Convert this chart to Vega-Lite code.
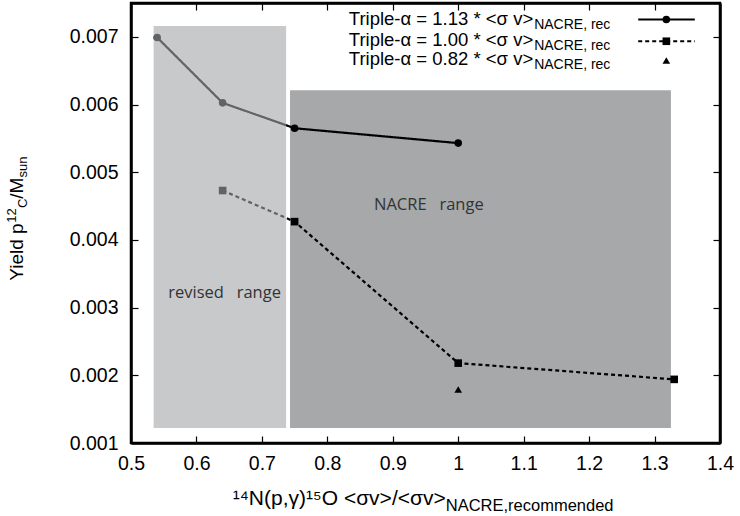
{
  "$schema": "https://vega.github.io/schema/vega-lite/v6.json",
  "width": 589,
  "height": 440,
  "autosize": {"type": "none"},
  "padding": {"left": 131, "top": 3, "right": 20, "bottom": 73},
  "background": "white",
  "config": {"view": {"stroke": "black", "strokeWidth": 2.5}, "font": "Liberation Sans"},
  "resolve": {"axis": {"x": "independent", "y": "independent"}},
  "datasets": {
    "rects": [
      {"r": "nacre", "x": 0.743, "x2": 1.325, "y": 0.00122, "y2": 0.00621},
      {"r": "revised", "x": 0.5346, "x2": 0.737, "y": 0.00122, "y2": 0.00716}
    ],
    "series": [
      {"s": "1.13", "x": 0.54, "y": 0.00699},
      {"s": "1.13", "x": 0.64, "y": 0.006025},
      {"s": "1.13", "x": 0.75, "y": 0.00565},
      {"s": "1.13", "x": 1.0, "y": 0.00543},
      {"s": "1.00", "x": 0.64, "y": 0.00473},
      {"s": "1.00", "x": 0.75, "y": 0.00427},
      {"s": "1.00", "x": 1.0, "y": 0.00218},
      {"s": "1.00", "x": 1.33, "y": 0.00194},
      {"s": "0.82", "x": 1.0, "y": 0.00179}
    ],
    "legl": [
      {"s": "1.13", "x": 1.275, "y": 0.007256},
      {"s": "1.13", "x": 1.3615, "y": 0.007256},
      {"s": "1.00", "x": 1.275, "y": 0.006935},
      {"s": "1.00", "x": 1.3615, "y": 0.006935}
    ],
    "legm": [
      {"s": "1.13", "x": 1.318, "y": 0.007256},
      {"s": "1.00", "x": 1.318, "y": 0.006935},
      {"s": "0.82", "x": 1.318, "y": 0.00665}
    ],
    "txt": [
      {"k": "leg", "x": 1.1146, "y": 0.007182, "t": "Triple-α = 1.13 * <σ v>"},
      {"k": "leg", "x": 1.1146, "y": 0.006871, "t": "Triple-α = 1.00 * <σ v>"},
      {"k": "leg", "x": 1.1146, "y": 0.00659, "t": "Triple-α = 0.82 * <σ v>"},
      {"k": "legsub", "x": 1.116, "y": 0.007182, "t": "NACRE, rec"},
      {"k": "legsub", "x": 1.116, "y": 0.006871, "t": "NACRE, rec"},
      {"k": "legsub", "x": 1.116, "y": 0.00659, "t": "NACRE, rec"},
      {"k": "range", "x": 0.643, "y": 0.003145, "t": "revised\u00a0\u00a0\u00a0range"},
      {"k": "range", "x": 0.9551, "y": 0.004446, "t": "NACRE\u00a0\u00a0\u00a0range"},
      {"k": "xt", "x": 0.9809, "y": 0.0000831, "t": "¹⁴N(p,γ)¹⁵O <σv>/<σv>"},
      {"k": "xts", "x": 0.9809, "y": 0.0000831, "t": "NACRE,recommended"},
      {"k": "yt", "x": 0.3351, "y": 0.003396, "t": "Yield p"},
      {"k": "yt", "x": 0.3351, "y": 0.004609, "t": "/M"},
      {"k": "ytsup", "x": 0.3351, "y": 0.004255, "t": "12"},
      {"k": "ytsub", "x": 0.3351, "y": 0.00447, "t": "C"},
      {"k": "ytsub", "x": 0.3351, "y": 0.004921, "t": "sun"}
    ],
    "dummy": [{"x": 1.0, "y": 0.004}]
  },
  "layer": [
    {
      "data": {"name": "rects"},
      "transform": [{"filter": "datum.r === 'nacre'"}],
      "mark": {"type": "rect", "color": "#a6a8aa"},
      "encoding": {
        "x": {"field": "x", "type": "quantitative", "scale": {"domain": [0.5, 1.4], "nice": false, "zero": false}, "axis": null},
        "x2": {"field": "x2"},
        "y": {"field": "y", "type": "quantitative", "scale": {"domain": [0.001, 0.0075], "nice": false, "zero": false}, "axis": null},
        "y2": {"field": "y2"}
      }
    },
    {
      "data": {"name": "series"},
      "transform": [{"filter": "datum.s !== '0.82'"}],
      "mark": {"type": "line", "color": "black", "strokeWidth": 2.2},
      "encoding": {
        "x": {"field": "x", "type": "quantitative", "axis": null},
        "y": {"field": "y", "type": "quantitative", "axis": null},
        "detail": {"field": "s"},
        "strokeDash": {"field": "s", "type": "nominal", "scale": {"domain": ["1.13", "1.00"], "range": [[1, 0], [4, 3]]}, "legend": null}
      }
    },
    {
      "data": {"name": "series"},
      "mark": {"type": "point", "filled": true, "color": "black", "opacity": 1, "size": 58},
      "encoding": {
        "x": {"field": "x", "type": "quantitative", "axis": null},
        "y": {"field": "y", "type": "quantitative", "axis": null},
        "shape": {"field": "s", "type": "nominal", "scale": {"domain": ["1.13", "1.00", "0.82"], "range": ["circle", "square", "triangle-up"]}, "legend": null}
      }
    },
    {
      "data": {"name": "rects"},
      "transform": [{"filter": "datum.r === 'revised'"}],
      "mark": {"type": "rect", "color": "#a3a5a8", "opacity": 0.6},
      "encoding": {
        "x": {"field": "x", "type": "quantitative", "axis": null},
        "x2": {"field": "x2"},
        "y": {"field": "y", "type": "quantitative", "axis": null},
        "y2": {"field": "y2"}
      }
    },
    {
      "data": {"name": "legl"},
      "mark": {"type": "line", "color": "black", "strokeWidth": 2.2},
      "encoding": {
        "x": {"field": "x", "type": "quantitative", "axis": null},
        "y": {"field": "y", "type": "quantitative", "axis": null},
        "detail": {"field": "s"},
        "strokeDash": {"field": "s", "type": "nominal", "legend": null}
      }
    },
    {
      "data": {"name": "legm"},
      "mark": {"type": "point", "filled": true, "color": "black", "opacity": 1, "size": 58},
      "encoding": {
        "x": {"field": "x", "type": "quantitative", "axis": null},
        "y": {"field": "y", "type": "quantitative", "axis": null},
        "shape": {"field": "s", "type": "nominal", "legend": null}
      }
    },
    {
      "data": {"name": "txt"},
      "transform": [{"filter": "datum.k === 'leg'"}],
      "mark": {"type": "text", "align": "right", "baseline": "alphabetic", "font": "Liberation Sans", "fontSize": 18.5, "color": "black"},
      "encoding": {
        "x": {"field": "x", "type": "quantitative", "axis": null},
        "y": {"field": "y", "type": "quantitative", "axis": null},
        "text": {"field": "t"}
      }
    },
    {
      "data": {"name": "txt"},
      "transform": [{"filter": "datum.k === 'legsub'"}],
      "mark": {"type": "text", "align": "left", "baseline": "alphabetic", "font": "Liberation Sans", "fontSize": 14, "dy": 4, "color": "black"},
      "encoding": {
        "x": {"field": "x", "type": "quantitative", "axis": null},
        "y": {"field": "y", "type": "quantitative", "axis": null},
        "text": {"field": "t"}
      }
    },
    {
      "data": {"name": "txt"},
      "transform": [{"filter": "datum.k === 'range'"}],
      "mark": {"type": "text", "align": "center", "baseline": "alphabetic", "font": "Open Sans", "fontSize": 16.5, "color": "#333333"},
      "encoding": {
        "x": {"field": "x", "type": "quantitative", "axis": null},
        "y": {"field": "y", "type": "quantitative", "axis": null},
        "text": {"field": "t"}
      }
    },
    {
      "data": {"name": "txt"},
      "transform": [{"filter": "datum.k === 'xt'"}],
      "mark": {"type": "text", "align": "right", "baseline": "alphabetic", "font": "Liberation Sans", "fontSize": 21, "color": "black"},
      "encoding": {
        "x": {"field": "x", "type": "quantitative", "axis": null},
        "y": {"field": "y", "type": "quantitative", "axis": null},
        "text": {"field": "t"}
      }
    },
    {
      "data": {"name": "txt"},
      "transform": [{"filter": "datum.k === 'xts'"}],
      "mark": {"type": "text", "align": "left", "baseline": "alphabetic", "font": "Liberation Sans", "fontSize": 16.5, "dy": 6, "color": "black"},
      "encoding": {
        "x": {"field": "x", "type": "quantitative", "axis": null},
        "y": {"field": "y", "type": "quantitative", "axis": null},
        "text": {"field": "t"}
      }
    },
    {
      "data": {"name": "txt"},
      "transform": [{"filter": "datum.k === 'yt'"}],
      "mark": {"type": "text", "align": "left", "baseline": "alphabetic", "angle": 270, "font": "Liberation Sans", "fontSize": 19, "color": "black"},
      "encoding": {
        "x": {"field": "x", "type": "quantitative", "axis": null},
        "y": {"field": "y", "type": "quantitative", "axis": null},
        "text": {"field": "t"}
      }
    },
    {
      "data": {"name": "txt"},
      "transform": [{"filter": "datum.k === 'ytsup'"}],
      "mark": {"type": "text", "align": "left", "baseline": "alphabetic", "angle": 270, "font": "Liberation Sans", "fontSize": 13, "dy": -7, "color": "black"},
      "encoding": {
        "x": {"field": "x", "type": "quantitative", "axis": null},
        "y": {"field": "y", "type": "quantitative", "axis": null},
        "text": {"field": "t"}
      }
    },
    {
      "data": {"name": "txt"},
      "transform": [{"filter": "datum.k === 'ytsub'"}],
      "mark": {"type": "text", "align": "left", "baseline": "alphabetic", "angle": 270, "font": "Liberation Sans", "fontSize": 13, "dy": 4, "color": "black"},
      "encoding": {
        "x": {"field": "x", "type": "quantitative", "axis": null},
        "y": {"field": "y", "type": "quantitative", "axis": null},
        "text": {"field": "t"}
      }
    },
    {
      "data": {"name": "dummy"},
      "mark": {"type": "point", "opacity": 0},
      "encoding": {
        "x": {"field": "x", "type": "quantitative", "axis": {"orient": "bottom", "title": null, "values": [0.5, 0.6, 0.7, 0.8, 0.9, 1.0, 1.1, 1.2, 1.3, 1.4], "format": "~g", "grid": false, "labelFont": "Liberation Sans", "labelFontSize": 19.5, "labelColor": "black", "labelFlush": false, "labelOverlap": false, "labelPadding": 18, "tickSize": -7, "tickColor": "black", "tickWidth": 1.2, "domainColor": "black", "domainWidth": 2.5}},
        "y": {"field": "y", "type": "quantitative", "axis": {"orient": "left", "title": null, "values": [0.001, 0.002, 0.003, 0.004, 0.005, 0.006, 0.007], "format": ".3f", "grid": false, "labelFont": "Liberation Sans", "labelFontSize": 19.5, "labelColor": "black", "labelFlush": false, "labelOverlap": false, "labelPadding": 20, "tickSize": -7, "tickColor": "black", "tickWidth": 1.2, "domainColor": "black", "domainWidth": 2.5}}
      }
    },
    {
      "data": {"name": "dummy"},
      "mark": {"type": "point", "opacity": 0},
      "encoding": {
        "x": {"field": "x", "type": "quantitative", "axis": {"orient": "top", "title": null, "values": [0.5, 0.6, 0.7, 0.8, 0.9, 1.0, 1.1, 1.2, 1.3, 1.4], "labels": false, "grid": false, "tickSize": -7, "tickColor": "black", "tickWidth": 1.2, "domainColor": "black", "domainWidth": 2.5}},
        "y": {"field": "y", "type": "quantitative", "axis": {"orient": "right", "title": null, "values": [0.001, 0.002, 0.003, 0.004, 0.005, 0.006, 0.007], "labels": false, "grid": false, "tickSize": -7, "tickColor": "black", "tickWidth": 1.2, "domainColor": "black", "domainWidth": 2.5}}
      }
    }
  ]
}
